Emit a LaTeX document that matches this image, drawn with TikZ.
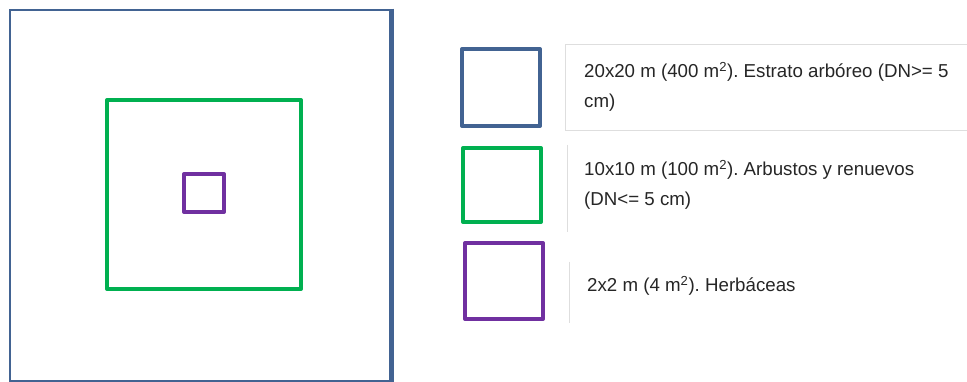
\documentclass[tikz,border=0pt]{standalone}
\usepackage{fontspec}
\setmainfont{Liberation Sans}
\frenchspacing
\definecolor{plotblue}{RGB}{66,99,146}
\definecolor{plotgreen}{RGB}{0,176,80}
\definecolor{plotpurple}{RGB}{112,48,160}
\definecolor{boxgray}{RGB}{222,222,222}
\begin{document}
\begin{tikzpicture}[x=1pt,y=-1pt,
  sq/.style={line width=4pt,line join=round},
  legtext/.style={anchor=west,align=left,inner sep=0pt,font=\fontsize{18.7}{30}\selectfont,text=black!85},
  divider/.style={draw=boxgray,line width=1pt}]
\useasboundingbox (0,0) rectangle (967,382);
\fill[white] (0,0) rectangle (967,382);
% outer 20x20 plot
\draw[plotblue,line width=2.5pt] (392,10) -- (10,10) -- (10,381) -- (392,381);
\draw[plotblue,line width=5pt] (391,8.75) -- (391,382);
% inner 10x10 plot
\draw[sq,plotgreen] (107,100) rectangle (301,289);
% inner 2x2 plot
\draw[sq,plotpurple] (184,174) rectangle (224,212);
% legend
\draw[sq,plotblue] (462,49) rectangle (540,126);
\draw[divider] (967,45) -- (565,45) -- (565,131) -- (967,131);
\node[legtext] (t1) at (584,87) {20x20 m (400 m\textsuperscript{2}). Estrato arbóreo (DN>= 5\\cm)};
\draw[sq,plotgreen] (463,148) rectangle (541,222);
\draw[divider] (567,145) -- (567,232);
\node[legtext] (t2) at (584,185) {10x10 m (100 m\textsuperscript{2}). Arbustos y renuevos\\(DN<= 5 cm)};
\draw[sq,plotpurple] (465,243) rectangle (543,319);
\draw[divider] (569,262) -- (569,323);
\node[legtext] (t3) at (587,286) {2x2 m (4 m\textsuperscript{2}). Herbáceas};
\end{tikzpicture}
\end{document}
